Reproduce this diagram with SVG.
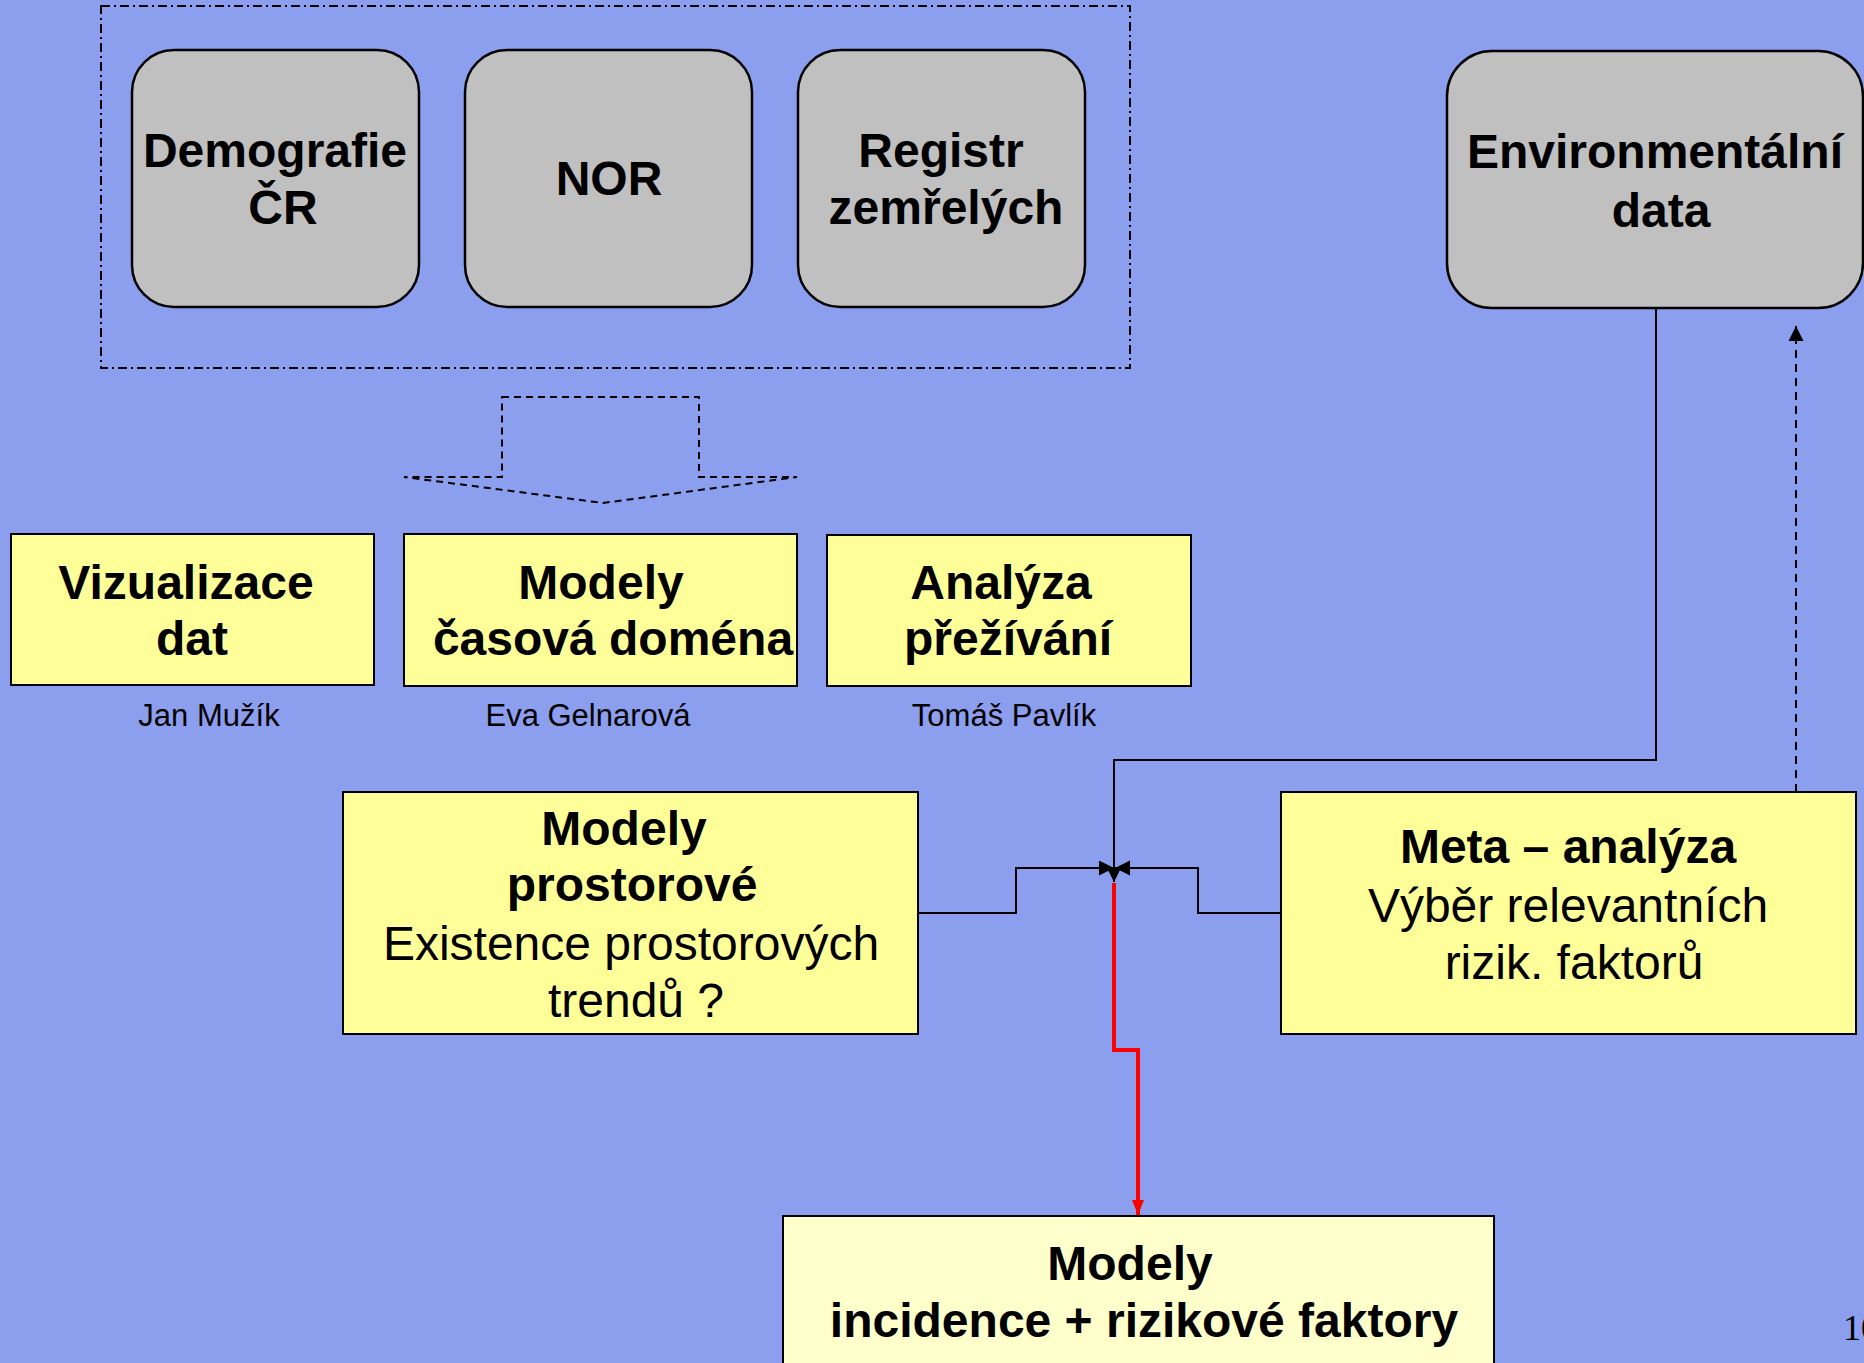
<svg xmlns="http://www.w3.org/2000/svg" width="1864" height="1363" viewBox="0 0 1864 1363">
<defs>
<style>
.bg{fill:#8C9EEE}
.gray{fill:#C0C0C0;stroke:#000;stroke-width:2.5}
.yel{fill:#FFFF99;stroke:#000;stroke-width:2}
.yel2{fill:#FFFFCC;stroke:#000;stroke-width:2}
.b{font-family:"Liberation Sans",Arial,sans-serif;font-weight:bold;font-size:48px;fill:#000;text-anchor:middle}
.r{font-family:"Liberation Sans",Arial,sans-serif;font-size:48px;fill:#000;text-anchor:middle}
.auth{font-family:"Liberation Sans",Arial,sans-serif;font-size:31px;fill:#000;text-anchor:middle}
.ln{fill:none;stroke:#000;stroke-width:2}
</style>
<marker id="ah" markerUnits="userSpaceOnUse" markerWidth="16" markerHeight="16" refX="15" refY="7.5" orient="auto">
<path d="M0,0 L15,7.5 L0,15 Z" fill="#000"/>
</marker>
<marker id="ahr" markerUnits="userSpaceOnUse" markerWidth="16" markerHeight="14" refX="15" refY="6" orient="auto">
<path d="M0,0 L15,6 L0,12 Z" fill="#FF0000"/>
</marker>
</defs>
<rect class="bg" x="0" y="0" width="1864" height="1363"/>

<g id="sources">
<rect x="101" y="6" width="1029" height="362" fill="none" stroke="#000" stroke-width="2" stroke-dasharray="9,4,2,4"/>
</g>
<g id="demografie">
<rect class="gray" x="132" y="50" width="287" height="257" rx="42" ry="42"/>
<text class="b" x="275" y="167">Demografie</text>
<text class="b" x="283" y="224">ČR</text>
</g>
<g id="nor">
<rect class="gray" x="465" y="50" width="287" height="257" rx="42" ry="42"/>
<text class="b" x="609" y="195">NOR</text>
</g>
<g id="registr">
<rect class="gray" x="798" y="50" width="287" height="257" rx="42" ry="42"/>
<text class="b" x="941" y="167">Registr</text>
<text class="b" x="946" y="224">zemřelých</text>
</g>
<g id="environmentalni">
<rect class="gray" x="1447" y="51" width="416" height="257" rx="45" ry="45"/>
<text class="b" x="1655" y="168">Environmentální</text>
<text class="b" x="1661" y="227">data</text>
</g>

<g id="vizualizace">
<rect class="yel" x="11" y="534" width="363" height="151"/>
<text class="b" x="186" y="599">Vizualizace</text>
<text class="b" x="192" y="655">dat</text>
<text class="auth" x="209" y="726">Jan Mužík</text>
</g>
<g id="modely-casova">
<rect class="yel" x="404" y="534" width="393" height="152"/>
<text class="b" x="601" y="599">Modely</text>
<text class="b" x="613" y="655">časová doména</text>
<text class="auth" x="588" y="726">Eva Gelnarová</text>
</g>
<g id="analyza">
<rect class="yel" x="827" y="535" width="364" height="151"/>
<text class="b" x="1001" y="599">Analýza</text>
<text class="b" x="1008" y="655">přežívání</text>
<text class="auth" x="1004" y="726">Tomáš Pavlík</text>
</g>

<g id="modely-prostorove">
<rect class="yel" x="343" y="792" width="575" height="242"/>
<text class="b" x="624" y="845">Modely</text>
<text class="b" x="632" y="901">prostorové</text>
<text class="r" x="631" y="960">Existence prostorových</text>
<text class="r" x="636" y="1017">trendů ?</text>
</g>
<g id="meta-analyza">
<rect class="yel" x="1281" y="792" width="575" height="242"/>
<text class="b" x="1568" y="863">Meta – analýza</text>
<text class="r" x="1568" y="922">Výběr relevantních</text>
<text class="r" x="1574" y="979">rizik. faktorů</text>
</g>
<g id="modely-incidence">
<rect class="yel2" x="783" y="1216" width="711" height="200"/>
<text class="b" x="1130" y="1280">Modely</text>
<text class="b" x="1144" y="1337">incidence + rizikové faktory</text>
</g>
<text x="1843" y="1340" font-family="'Liberation Serif','Times New Roman',serif" font-size="36" fill="#000">10</text>

<g id="connectors">
<polygon points="502,397 699,397 699,477 797,477 603,503 404,477 502,477" fill="none" stroke="#000" stroke-width="2" stroke-dasharray="7,5"/>
<path class="ln" d="M918,913 H1016 V868 H1114" marker-end="url(#ah)"/>
<path class="ln" d="M1281,913 H1198 V868 H1115" marker-end="url(#ah)"/>
<path class="ln" d="M1656,308 V760 H1114 V882" marker-end="url(#ah)"/>
<path d="M1114,883 V1050 H1138 V1215" fill="none" stroke="#FF0000" stroke-width="4" marker-end="url(#ahr)"/>
<path class="ln" d="M1796,792 V326" stroke-dasharray="8,6" marker-end="url(#ah)"/>
</g>
</svg>
